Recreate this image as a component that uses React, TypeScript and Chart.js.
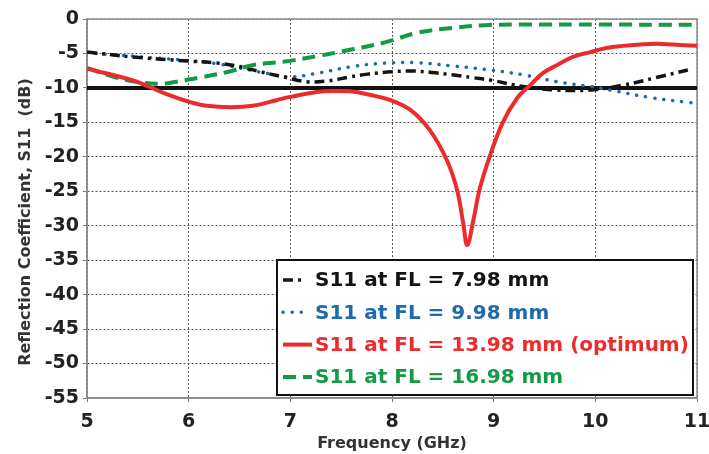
import React, { useEffect, useRef } from "react";
import { Chart, registerables } from "chart.js";

Chart.register(...registerables);

const FONT = '"DejaVu Sans", Verdana, sans-serif';

// Axis ranges and tick steps
const freqRange = [5, 11];
const s11Range = [-55, 0];
const freqStep = 1;
const s11Step = 5;

// S11 at FL = 7.98 mm
const fl798Freq = [5.0, 5.45, 5.94, 6.28, 6.5, 6.7, 6.93, 7.16, 7.36, 7.59, 7.76, 8.0, 8.2, 8.39, 8.59, 8.79, 8.98, 9.29, 9.62, 9.95, 10.27, 10.6, 10.91];
const fl798Db = [-4.8, -5.5, -6.05, -6.4, -6.9, -7.65, -8.4, -9.1, -9.0, -8.4, -8.0, -7.65, -7.55, -7.75, -8.1, -8.5, -8.9, -9.8, -10.3, -10.3, -9.6, -8.5, -7.4];

// S11 at FL = 9.98 mm
const fl998Freq = [5.0, 5.29, 5.62, 5.94, 6.28, 6.6, 6.77, 7.0, 7.29, 7.61, 7.93, 8.25, 8.59, 8.91, 9.29, 9.62, 9.95, 10.21, 10.54, 10.91, 11.0];
const fl998Db = [-4.9, -5.2, -5.6, -5.95, -6.5, -7.4, -7.9, -8.4, -7.8, -6.9, -6.4, -6.35, -6.8, -7.3, -8.1, -9.1, -9.8, -10.5, -11.4, -12.1, -12.2];

// S11 at FL = 13.98 mm (optimum)
const fl1398Freq = [5.0, 5.45, 5.62, 5.79, 6.0, 6.18, 6.41, 6.63, 6.87, 7.0, 7.26, 7.42, 7.59, 7.78, 7.98, 8.18, 8.37, 8.54, 8.64, 8.7, 8.74, 8.8, 8.86, 8.96, 9.09, 9.23, 9.36, 9.48, 9.62, 9.78, 9.95, 10.11, 10.27, 10.44, 10.6, 10.76, 11.0];
const fl1398Db = [-7.2, -8.9, -9.9, -10.95, -12.0, -12.6, -12.8, -12.6, -11.75, -11.3, -10.6, -10.45, -10.5, -11.0, -11.75, -13.2, -16.1, -20.5, -24.8, -29.6, -32.8, -29.2, -24.8, -20.0, -15.0, -11.5, -9.6, -7.9, -6.7, -5.5, -4.8, -4.2, -3.9, -3.7, -3.6, -3.7, -3.9];

// S11 at FL = 16.98 mm
const fl1698Freq = [5.0, 5.29, 5.52, 5.72, 5.88, 6.11, 6.38, 6.63, 6.93, 7.26, 7.61, 7.93, 8.25, 8.59, 8.91, 9.26, 10.04, 11.0];
const fl1698Db = [-7.1, -8.5, -9.2, -9.4, -9.1, -8.5, -7.7, -6.7, -6.2, -5.4, -4.4, -3.4, -2.0, -1.3, -0.9, -0.8, -0.8, -0.85];

// -10 dB reference level
const thresholdFreq = [5, 11];
const thresholdDb = [-10, -10];

const seriesLabels = [
  "S11 at FL = 7.98 mm",
  "S11 at FL = 9.98 mm",
  "S11 at FL = 13.98 mm (optimum)",
  "S11 at FL = 16.98 mm",
];
const seriesColors = ["#141414", "#1f69ad", "#ec2b2d", "#139a48"];

const zip = (xs: number[], ys: number[]) => xs.map((x, i) => ({ x, y: ys[i] }));

// Solid frame around the plotting area
const framePlugin = {
  id: "plotFrame",
  beforeDatasetsDraw(chart: any) {
    const { ctx, chartArea: a } = chart;
    ctx.save();
    ctx.strokeStyle = "#8c8c8c";
    ctx.lineWidth = 1.5;
    ctx.strokeRect(a.left, a.top, a.right - a.left, a.bottom - a.top);
    ctx.restore();
  },
};

// Rotated y-axis caption
const yTitlePlugin = {
  id: "yCaption",
  afterDraw(chart: any) {
    const { ctx } = chart;
    ctx.save();
    ctx.translate(26, 222);
    ctx.rotate(-Math.PI / 2);
    ctx.font = `bold 16px ${FONT}`;
    ctx.fillStyle = "#333";
    ctx.textAlign = "center";
    ctx.textBaseline = "middle";
    ctx.fillText("Reflection Coefficient, S11  (dB)", 0, 0);
    ctx.restore();
  },
};

// Short line-style samples: dash-dot and dotted keys are shorter
const sampleLengths = [19, 20, 29, 29];

// Boxed legend in the lower right of the plot
const boxLegendPlugin = {
  id: "boxLegend",
  afterDraw(chart: any) {
    const { ctx } = chart;
    const left = 277, top = 260, right = 693, bottom = 395;
    ctx.save();
    ctx.fillStyle = "#fff";
    ctx.fillRect(left, top, right - left, bottom - top);
    ctx.strokeStyle = "#111";
    ctx.lineWidth = 2;
    ctx.strokeRect(left, top, right - left, bottom - top);
    seriesLabels.forEach((label, i) => {
      const ds = chart.data.datasets[i];
      const y = 280 + i * 32.3;
      ctx.save();
      ctx.strokeStyle = ds.borderColor;
      ctx.lineWidth = ds.borderWidth;
      ctx.lineCap = ds.borderCapStyle || "butt";
      ctx.setLineDash(ds.borderDash || []);
      ctx.beginPath();
      ctx.moveTo(283, y);
      ctx.lineTo(283 + sampleLengths[i], y);
      ctx.stroke();
      ctx.restore();
      ctx.font = `bold 20px ${FONT}`;
      ctx.fillStyle = seriesColors[i];
      ctx.textAlign = "left";
      ctx.textBaseline = "middle";
      ctx.fillText(label, 315, y + 1);
    });
    ctx.restore();
  },
};

export default function App() {
  const canvasRef = useRef<HTMLCanvasElement | null>(null);

  useEffect(() => {
    if (!canvasRef.current) return;
    const tickFont = { family: FONT, size: 19, weight: "bold" as const };
    const chart = new Chart(canvasRef.current, {
      type: "line",
      data: {
        datasets: [
          {
            label: seriesLabels[0],
            data: zip(fl798Freq, fl798Db),
            borderColor: seriesColors[0],
            borderWidth: 3.5,
            borderDash: [10, 5, 3, 5],
            borderCapStyle: "butt",
            tension: 0.4,
            pointRadius: 0,
            order: 2,
          },
          {
            label: seriesLabels[1],
            data: zip(fl998Freq, fl998Db),
            borderColor: seriesColors[1],
            borderWidth: 3.5,
            borderDash: [0.1, 9],
            borderCapStyle: "round",
            tension: 0.4,
            pointRadius: 0,
            order: 3,
          },
          {
            label: seriesLabels[2],
            data: zip(fl1398Freq, fl1398Db),
            borderColor: seriesColors[2],
            borderWidth: 4,
            tension: 0.4,
            pointRadius: 0,
            order: 0,
          },
          {
            label: seriesLabels[3],
            data: zip(fl1698Freq, fl1698Db),
            borderColor: seriesColors[3],
            borderWidth: 4,
            borderDash: [13, 7],
            borderCapStyle: "butt",
            tension: 0.4,
            pointRadius: 0,
            order: 1,
          },
          {
            label: "-10 dB",
            data: zip(thresholdFreq, thresholdDb),
            borderColor: "#111",
            borderWidth: 4,
            pointRadius: 0,
            order: 4,
          },
        ],
      },
      options: {
        responsive: false,
        animation: false,
        layout: { padding: { left: 0, right: 12, top: 19, bottom: 0 } },
        plugins: {
          legend: { display: false },
          tooltip: { enabled: false },
        },
        scales: {
          x: {
            type: "linear",
            min: freqRange[0],
            max: freqRange[1],
            ticks: { stepSize: freqStep, font: tickFont, color: "#222", padding: 9, autoSkip: false, maxRotation: 0 },
            grid: { color: "#555", lineWidth: 1, tickLength: 4, tickColor: "#777", tickBorderDash: [] },
            border: { display: true, color: "#8c8c8c", width: 1.5, dash: [2, 2] },
            title: {
              display: true,
              text: "Frequency (GHz)",
              font: { family: FONT, size: 16, weight: "bold" },
              color: "#333",
              padding: { top: 0, bottom: 1 },
            },
            afterFit(scale: any) {
              scale.height = 56;
              scale.paddingLeft = 0;
              scale.paddingRight = 0;
            },
          },
          y: {
            type: "linear",
            min: s11Range[0],
            max: s11Range[1],
            ticks: { stepSize: s11Step, font: tickFont, color: "#222", padding: 4, autoSkip: false },
            grid: { color: "#555", lineWidth: 1, tickLength: 4, tickColor: "#777", tickBorderDash: [] },
            border: { display: true, color: "#8c8c8c", width: 1.5, dash: [2, 2] },
            afterFit(scale: any) {
              scale.width = 87;
              scale.paddingTop = 0;
              scale.paddingBottom = 0;
            },
          },
        },
      } as any,
      plugins: [framePlugin, yTitlePlugin, boxLegendPlugin],
    });
    return () => chart.destroy();
  }, []);

  return (
    <div style={{ position: "fixed", left: 0, top: 0, width: 709, height: 454, background: "#fff" }}>
      <canvas ref={canvasRef} width={709} height={454} style={{ display: "block" }} />
    </div>
  );
}
